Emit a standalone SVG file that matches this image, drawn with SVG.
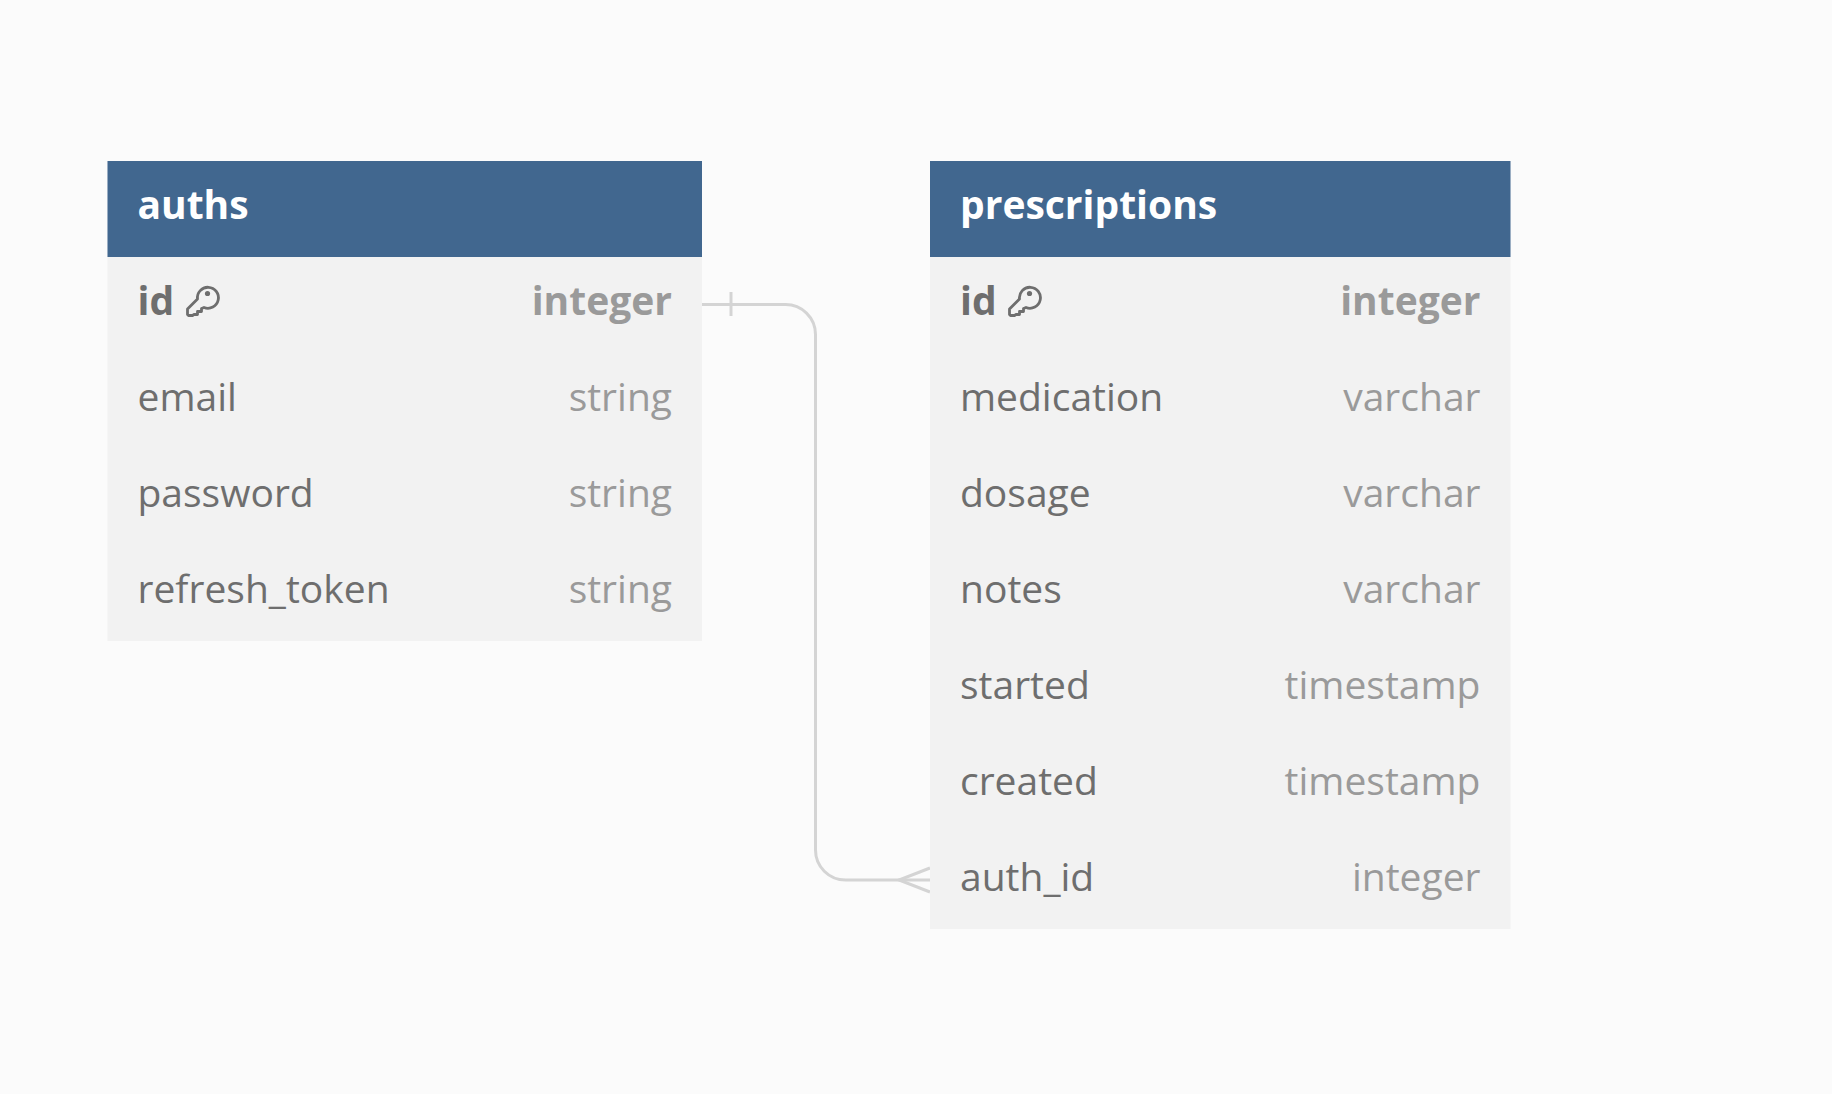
<svg xmlns="http://www.w3.org/2000/svg" width="1832" height="1094" viewBox="0 0 1832 1094">
<style>
text{font-family:"Open Sans","Noto Sans",sans-serif;font-size:39px}
.hd{fill:#41678f}.bd{fill:#f2f2f2}
.t{fill:#fff;font-weight:700}
.n{fill:#6e6e6e}.ty{fill:#9a9a9a;text-anchor:end}
.b{font-weight:700}
.c{fill:none;stroke:#d4d4d4;stroke-width:3}
.k{fill:none;stroke:#6e6e6e;stroke-width:2.800;stroke-linejoin:round}
</style>
<defs>
<g id="key"><path class="k" d="M1.500 29.500V24L11.500 14A10.500 10.500 0 1 1 18 22.500L15.500 23.500V26.500H11.500V29.500H8L6.500 30.500H2.500Z"/><circle cx="21.500" cy="8.500" r="2.600" fill="#6e6e6e"/></g>
</defs>
<rect width="1832" height="1094" fill="#fbfbfb"/>
<g id="connectors">
<path class="c" d="M702 304.500H785A30 30 0 0 1 815.500 334.500V850A30 30 0 0 0 845.500 880H930"/>
<path class="c" d="M731 292V316"/>
<path class="c" d="M930 868L899 880L930 892"/>
</g>
<g id="auths">
<rect class="bd" x="107.500" y="161" width="594.500" height="480"/>
<rect class="hd" x="107.500" y="161" width="594.500" height="96"/>
<text class="t" x="137.500" y="219">auths</text>
<text class="n b" x="137.500" y="315">id</text>
<use href="#key" x="186" y="285"/>
<text class="ty b" x="672" y="315">integer</text>
<text class="n" x="137.500" y="411">email</text><text class="ty" x="672" y="411">string</text>
<text class="n" x="137.500" y="507">password</text><text class="ty" x="672" y="507">string</text>
<text class="n" x="137.500" y="603">refresh_token</text><text class="ty" x="672" y="603">string</text>
</g>
<g id="prescriptions">
<rect class="bd" x="930" y="161" width="580.500" height="768"/>
<rect class="hd" x="930" y="161" width="580.500" height="96"/>
<text class="t" x="960" y="219">prescriptions</text>
<text class="n b" x="960" y="315">id</text>
<use href="#key" x="1008" y="285"/>
<text class="ty b" x="1480.500" y="315">integer</text>
<text class="n" x="960" y="411">medication</text><text class="ty" x="1480.500" y="411">varchar</text>
<text class="n" x="960" y="507">dosage</text><text class="ty" x="1480.500" y="507">varchar</text>
<text class="n" x="960" y="603">notes</text><text class="ty" x="1480.500" y="603">varchar</text>
<text class="n" x="960" y="699">started</text><text class="ty" x="1480.500" y="699">timestamp</text>
<text class="n" x="960" y="795">created</text><text class="ty" x="1480.500" y="795">timestamp</text>
<text class="n" x="960" y="891">auth_id</text><text class="ty" x="1480.500" y="891">integer</text>
</g>
</svg>
